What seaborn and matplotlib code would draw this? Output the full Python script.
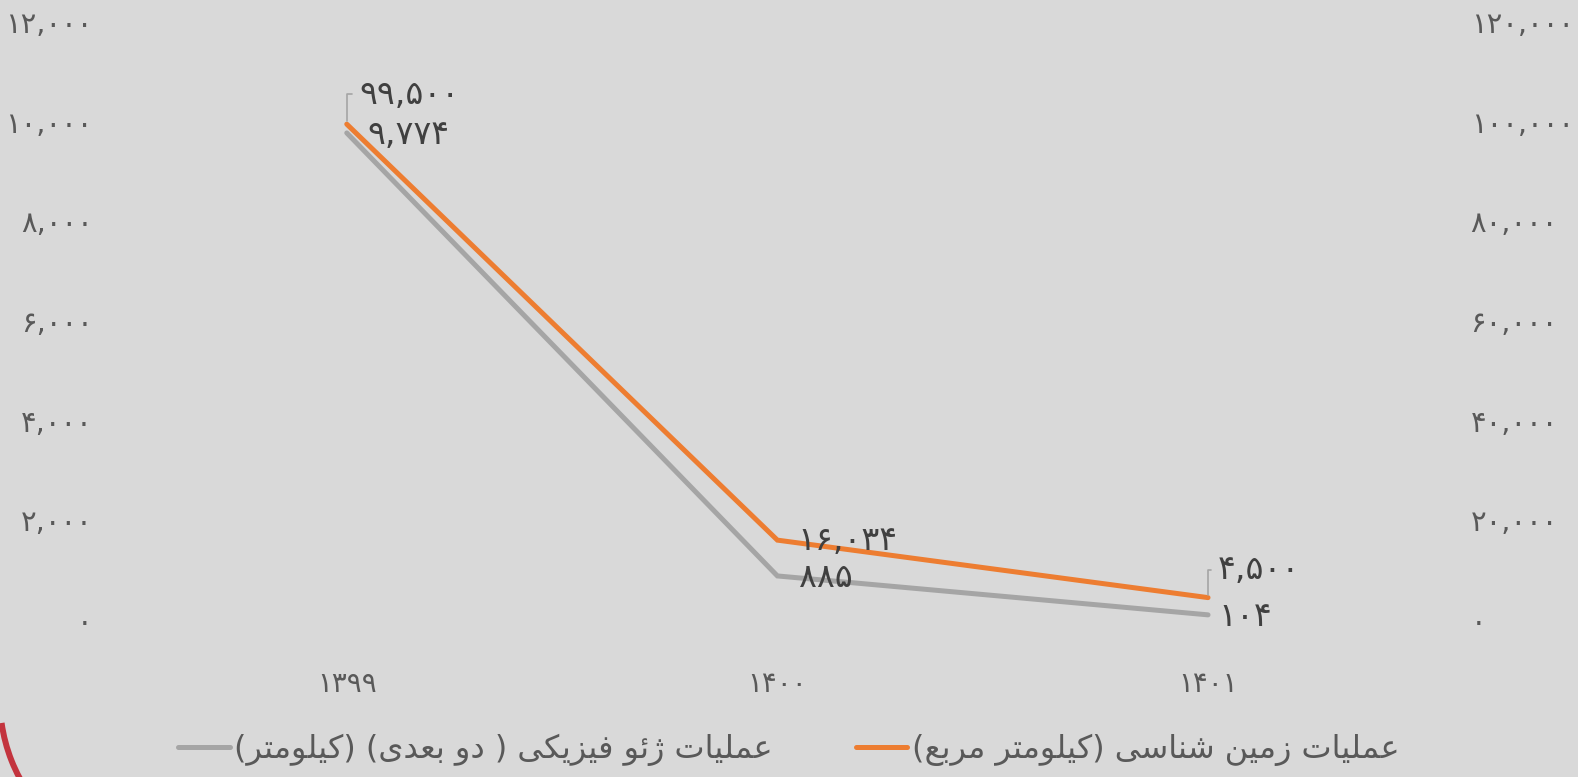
import matplotlib
matplotlib.use("Agg")
import matplotlib.pyplot as plt
from matplotlib.patches import Arc
from matplotlib.transforms import IdentityTransform
from matplotlib.lines import Line2D
import seaborn as sns
import pandas as pd

# ---------------- data ----------------
years = ["۱۳۹۹", "۱۴۰۰", "۱۴۰۱"]
geophysics_km = [9774, 885, 104]            # left axis (gray)
geology_km2 = [99500, 16034, 4500]          # right axis (orange)
left_ticks = [0, 2000, 4000, 6000, 8000, 10000, 12000]
right_ticks = [0, 20000, 40000, 60000, 80000, 100000, 120000]
label_geophysics = "عملیات ژئو فیزیکی ( دو بعدی) (کیلومتر)"
label_geology = "عملیات زمین شناسی (کیلومتر مربع)"

# ---------------- helpers ----------------
FA = str.maketrans("0123456789", "۰۱۲۳۴۵۶۷۸۹")


def fa_num(v):
    return f"{v:,.0f}".translate(FA)


# minimal Arabic/Persian shaper: (isolated, final, initial, medial)
FORMS = {
    "ع": ("\uFEC9", "\uFECA", "\uFECB", "\uFECC"),
    "م": ("\uFEE1", "\uFEE2", "\uFEE3", "\uFEE4"),
    "ل": ("\uFEDD", "\uFEDE", "\uFEDF", "\uFEE0"),
    "ی": ("\uFBFC", "\uFBFD", "\uFBFE", "\uFBFF"),
    "ت": ("\uFE95", "\uFE96", "\uFE97", "\uFE98"),
    "ن": ("\uFEE5", "\uFEE6", "\uFEE7", "\uFEE8"),
    "ش": ("\uFEB5", "\uFEB6", "\uFEB7", "\uFEB8"),
    "س": ("\uFEB1", "\uFEB2", "\uFEB3", "\uFEB4"),
    "ک": ("\uFB8E", "\uFB8F", "\uFB90", "\uFB91"),
    "ب": ("\uFE8F", "\uFE90", "\uFE91", "\uFE92"),
    "ئ": ("\uFE89", "\uFE8A", "\uFE8B", "\uFE8C"),
    "ف": ("\uFED1", "\uFED2", "\uFED3", "\uFED4"),
    "ا": ("\uFE8D", "\uFE8E", None, None),
    "ز": ("\uFEAF", "\uFEB0", None, None),
    "و": ("\uFEED", "\uFEEE", None, None),
    "ر": ("\uFEAD", "\uFEAE", None, None),
    "ژ": ("\uFB8A", "\uFB8B", None, None),
    "د": ("\uFEA9", "\uFEAA", None, None),
}


def dual(c):
    return c in FORMS and FORMS[c][2] is not None


def shape_rtl(text):
    out = []
    n = len(text)
    for i, c in enumerate(text):
        if c not in FORMS:
            out.append(c)
            continue
        prev = text[i - 1] if i > 0 else ""
        nxt = text[i + 1] if i + 1 < n else ""
        jp = dual(prev)
        jn = dual(c) and nxt in FORMS
        if jp and jn:
            out.append(FORMS[c][3])
        elif jp:
            out.append(FORMS[c][1])
        elif jn:
            out.append(FORMS[c][2])
        else:
            out.append(FORMS[c][0])
    vis = "".join(reversed(out))
    return vis.translate(str.maketrans("()", ")("))


# ---------------- style ----------------
BG = "#D9D9D9"
GRAY = "#A5A5A5"
ORANGE = "#ED7D31"
TICK_C = "#595959"
LAB_C = "#404040"

sns.set_theme(style="white")
plt.rcParams["font.family"] = ["DejaVu Sans"]

fig = plt.figure(figsize=(15.78, 7.77), dpi=100, facecolor=BG)
ax = fig.add_axes([0.0833, 0.2020, 0.8187, 0.7697])
ax.set_facecolor(BG)
ax2 = ax.twinx()

df = pd.DataFrame({"year": years, "geo": geophysics_km, "geol": geology_km2})

sns.lineplot(data=df, x="year", y="geo", ax=ax, color=GRAY, lw=3.6,
             sort=False, solid_capstyle="round", solid_joinstyle="miter")
sns.lineplot(data=df, x="year", y="geol", ax=ax2, color=ORANGE, lw=3.6,
             sort=False, solid_capstyle="round", solid_joinstyle="miter")

ax.set_xlim(-0.5, 2.5)
ax.set_ylim(left_ticks[0], left_ticks[-1])
ax2.set_ylim(right_ticks[0], right_ticks[-1])
ax.set_yticks(left_ticks)
ax.set_yticklabels([fa_num(v) for v in left_ticks])
ax2.set_yticks(right_ticks)
ax2.set_yticklabels([fa_num(v) for v in right_ticks])
ax.set_xticks(range(len(years)))
ax.set_xticklabels(years)
for a in (ax, ax2):
    a.set_xlabel("")
    a.set_ylabel("")
    for s in a.spines.values():
        s.set_visible(False)
    a.grid(False)
ax.tick_params(axis="y", length=0, pad=28, labelsize=21, labelcolor=TICK_C)
ax2.tick_params(axis="y", length=0, pad=34, labelsize=21, labelcolor=TICK_C)
ax.tick_params(axis="x", length=0, pad=36, labelsize=20, labelcolor=TICK_C)

# ---------------- data labels ----------------
px = 0.72  # points per pixel at 100 dpi
geo_off = [(21, -2), (22, -2), (10, -2)]
geol_off = [(13, 30), (20, 0), (10, 28)]
geol_leader = [True, False, True]

for i, v in enumerate(geophysics_km):
    ax.annotate(fa_num(v), xy=(i, v), xytext=(geo_off[i][0] * px, geo_off[i][1] * px),
                textcoords="offset points", ha="left", va="center",
                fontsize=24, color=LAB_C)
for i, v in enumerate(geology_km2):
    kw = {}
    if geol_leader[i]:
        kw["arrowprops"] = dict(arrowstyle="-", color=GRAY, lw=1.2,
                                connectionstyle="angle,angleA=0,angleB=90,rad=0",
                                relpos=(0, 0.5), shrinkA=3, shrinkB=2)
    ax2.annotate(fa_num(v), xy=(i, v), xytext=(geol_off[i][0] * px, geol_off[i][1] * px),
                 textcoords="offset points", ha="left", va="center",
                 fontsize=24, color=LAB_C, **kw)

# ---------------- legend ----------------
handles = [Line2D([], [], color=GRAY, lw=3.6, solid_capstyle="round"),
           Line2D([], [], color=ORANGE, lw=3.6, solid_capstyle="round")]
fig.legend(handles, [shape_rtl(label_geophysics), shape_rtl(label_geology)],
           loc="center", bbox_to_anchor=(0.5, 0.035), ncol=2, frameon=False,
           fontsize=23, labelcolor=TICK_C, handlelength=1.6, handletextpad=0.15,
           columnspacing=2.6)

# ---------------- decorative corner arc ----------------
arc = Arc((165, 77), 330, 330, theta1=188, theta2=215, color="#C3343E", lw=4.3,
          transform=IdentityTransform())
fig.add_artist(arc)

fig.savefig("out.png", dpi=100, facecolor=BG)
